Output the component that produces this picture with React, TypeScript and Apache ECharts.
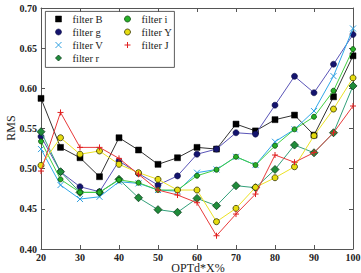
import React, { useEffect, useRef } from "react";
import * as echarts from "echarts";

const xValues = [20, 25, 30, 35, 40, 45, 50, 55, 60, 65, 70, 75, 80, 85, 90, 95, 100];

const filterB = [0.5875, 0.5265, 0.5136, 0.49, 0.5385, 0.5232, 0.5054, 0.5136, 0.5265, 0.5244, 0.5555, 0.547, 0.561, 0.5667, 0.5418, 0.5895, 0.6405];
const filterG = [0.54, 0.496, 0.4775, 0.4713, 0.5095, 0.494, 0.4796, 0.491, 0.518, 0.5244, 0.5447, 0.543, 0.579, 0.615, 0.5945, 0.63, 0.667];
const filterV = [0.5244, 0.4796, 0.4622, 0.465, 0.4837, 0.4817, 0.4734, 0.472, 0.495, 0.499, 0.5148, 0.5045, 0.5335, 0.549, 0.5717, 0.6152, 0.6745];
const filterR = [0.546, 0.4962, 0.4705, 0.4705, 0.4867, 0.4638, 0.449, 0.4457, 0.463, 0.4539, 0.4788, 0.4763, 0.499, 0.5294, 0.5198, 0.5447, 0.603];
const filterI = [0.534, 0.4867, 0.4705, 0.4705, 0.486, 0.4825, 0.4734, 0.4734, 0.4912, 0.4987, 0.5148, 0.5045, 0.5285, 0.549, 0.5646, 0.597, 0.6488];
const filterY = [0.504, 0.5385, 0.518, 0.522, 0.5054, 0.495, 0.4867, 0.4734, 0.4734, 0.434, 0.4506, 0.4768, 0.4887, 0.5024, 0.541, 0.5742, 0.613];
const filterJ = [0.497, 0.57, 0.5265, 0.5265, 0.5128, 0.493, 0.4734, 0.4672, 0.4576, 0.4165, 0.4435, 0.4684, 0.517, 0.508, 0.52, 0.5447, 0.578];

const xTicks = [20, 30, 40, 50, 60, 70, 80, 90, 100];
const yTicks = [0.4, 0.45, 0.5, 0.55, 0.6, 0.65, 0.7];
const xTitle = "OPTd*X%";
const yTitle = "RMS";

const FONT = "Liberation Serif";
const CROSS = "path://M0,0L10,10M10,0L0,10";
const PLUS = "path://M5,0L5,10M0,5L10,5";

type SeriesDef = {
  name: string;
  values: number[];
  line: string;
  symbol: string;
  size: number;
  fill: string;
  border: string;
  borderWidth: number;
};

const seriesDefs: SeriesDef[] = [
  { name: "filter B", values: filterB, line: "#333333", symbol: "rect", size: 6, fill: "#000000", border: "#000000", borderWidth: 0.5 },
  { name: "filter g", values: filterG, line: "#5a55b8", symbol: "circle", size: 6, fill: "#14146e", border: "#0a0a40", borderWidth: 0.6 },
  { name: "filter V", values: filterV, line: "#2fa8e8", symbol: CROSS, size: 6, fill: "transparent", border: "#2fa0e0", borderWidth: 1 },
  { name: "filter r", values: filterR, line: "#33a07a", symbol: "diamond", size: 8, fill: "#1f8c3a", border: "#0b3d1a", borderWidth: 0.8 },
  { name: "filter i", values: filterI, line: "#40d040", symbol: "circle", size: 5, fill: "#26b026", border: "#0d4a0d", borderWidth: 0.8 },
  { name: "filter Y", values: filterY, line: "#ece224", symbol: "circle", size: 6, fill: "#e6dc10", border: "#333300", borderWidth: 0.8 },
  { name: "filter J", values: filterJ, line: "#e83a3a", symbol: PLUS, size: 6, fill: "transparent", border: "#e02020", borderWidth: 1 },
];

function legendItem(d: SeriesDef) {
  return {
    name: d.name,
    icon: d.symbol,
    itemStyle: { color: d.fill, borderColor: d.border, borderWidth: d.borderWidth },
  };
}

export default function App() {
  const ref = useRef<HTMLDivElement>(null);

  useEffect(() => {
    if (!ref.current) return;
    const chart = echarts.init(ref.current, null, { renderer: "svg" });

    const legendBase = {
      orient: "vertical" as const,
      itemWidth: 6,
      itemHeight: 6,
      itemGap: 1,
      textStyle: {
        fontFamily: FONT,
        fontSize: 10.5,
        lineHeight: 12,
        color: "#222",
        padding: [0, 0, 0, 6],
      },
      padding: 0,
      selectedMode: false,
    };

    chart.setOption({
      animation: false,
      backgroundColor: "#ffffff",
      grid: {
        left: 41,
        right: 8,
        top: 8,
        bottom: 24,
        containLabel: false,
        outerBoundsMode: "none",
      },
      graphic: [
        {
          type: "rect",
          left: 45,
          top: 11,
          shape: { width: 129, height: 56 },
          style: { fill: "#ffffff", stroke: "#333", lineWidth: 0.8 },
          z: 90,
        },
        // axis titles
        {
          type: "text",
          x: 11,
          y: 128,
          rotation: Math.PI / 2,
          style: {
            text: yTitle,
            fontFamily: FONT,
            fontSize: 12,
            lineHeight: 12,
            fill: "#222",
            align: "center",
            verticalAlign: "middle",
          },
        },
        {
          type: "text",
          x: 198,
          y: 267.5,
          style: {
            text: xTitle,
            fontFamily: FONT,
            fontSize: 12,
            lineHeight: 10,
            fill: "#222",
            align: "center",
            verticalAlign: "middle",
          },
        },
      ],
      legend: [
        {
          ...legendBase,
          left: 55,
          top: 13,
          data: seriesDefs.slice(0, 4).map(legendItem),
          z: 100,
        },
        {
          ...legendBase,
          left: 124,
          top: 13,
          data: seriesDefs.slice(4).map(legendItem),
          z: 100,
        },
      ],
      xAxis: [
        {
          type: "value",
          min: 20,
          max: 100,
          interval: 10,
          axisLine: { lineStyle: { color: "#555", width: 1 } },
          axisTick: { inside: true, length: 4, lineStyle: { color: "#555" } },
          axisLabel: {
            fontFamily: FONT,
            fontSize: 10,
            lineHeight: 9,
            color: "#222",
            margin: 4,
            fontWeight: "bold",
            formatter: (v: number) => (xTicks.includes(v) ? String(v) : ""),
          },
          splitLine: { show: false },
        },
        {
          type: "value",
          position: "top",
          min: 20,
          max: 100,
          interval: 10,
          axisLine: { lineStyle: { color: "#555", width: 1 } },
          axisTick: { inside: true, length: 4, lineStyle: { color: "#555" } },
          axisLabel: { show: false },
          splitLine: { show: false },
        },
      ],
      yAxis: [
        {
          type: "value",
          min: 0.4,
          max: 0.7,
          interval: 0.05,
          axisLine: { show: true, lineStyle: { color: "#555", width: 1 } },
          axisTick: { show: true, inside: true, length: 4, lineStyle: { color: "#555" } },
          axisLabel: {
            fontFamily: FONT,
            fontSize: 10,
            color: "#222",
            margin: 4,
            fontWeight: "bold",
            formatter: (v: number) => {
              const hit = yTicks.find((t) => Math.abs(t - v) < 1e-6);
              return hit === undefined ? "" : hit.toFixed(2);
            },
          },
          splitLine: { show: false },
        },
        {
          type: "value",
          position: "right",
          min: 0.4,
          max: 0.7,
          interval: 0.05,
          axisLine: { show: true, lineStyle: { color: "#555", width: 1 } },
          axisTick: { show: true, inside: true, length: 4, lineStyle: { color: "#555" } },
          axisLabel: { show: false },
          splitLine: { show: false },
        },
      ],
      series: seriesDefs.map((d, i) => ({
        name: d.name,
        type: "line",
        xAxisIndex: 0,
        yAxisIndex: 0,
        data: xValues.map((x, k) => [x, d.values[k]]),
        symbol: d.symbol,
        symbolSize: d.size,
        showAllSymbol: true,
        lineStyle: { color: d.line, width: 1 },
        itemStyle: { color: d.fill, borderColor: d.border, borderWidth: d.borderWidth },
        emphasis: { disabled: true },
        z: 2 + i,
      })),
    });

    return () => chart.dispose();
  }, []);

  return (
    <div
      ref={ref}
      style={{ position: "absolute", left: 0, top: 0, width: 361, height: 273 }}
    />
  );
}
